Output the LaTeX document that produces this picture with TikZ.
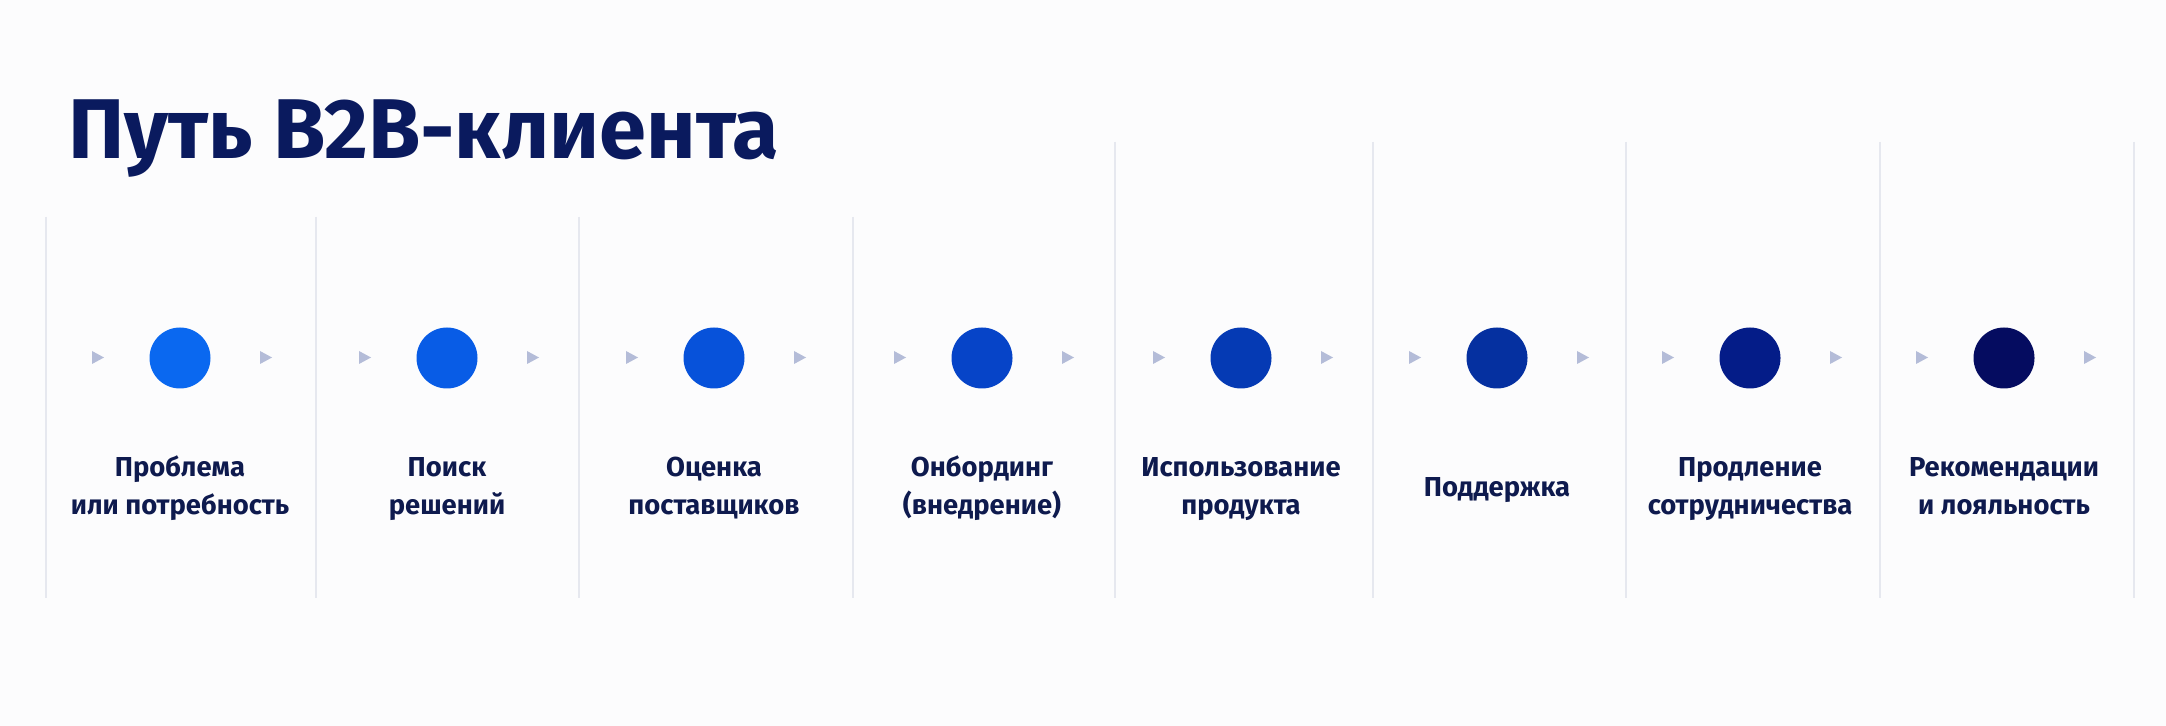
\documentclass[tikz,border=0pt]{standalone}
\usepackage{fontspec}
\setmainfont{Fira Sans}
\definecolor{bg}{HTML}{FCFCFD}
\definecolor{vline}{HTML}{E6E8EF}
\definecolor{titlec}{HTML}{0A1A5E}
\definecolor{labc}{HTML}{0E1A4E}
\definecolor{tri}{HTML}{B4BCD8}
\definecolor{c1}{HTML}{0A68F0}
\definecolor{c2}{HTML}{085CE6}
\definecolor{c3}{HTML}{0752DA}
\definecolor{c4}{HTML}{0644C8}
\definecolor{c5}{HTML}{053AB4}
\definecolor{c6}{HTML}{0530A0}
\definecolor{c7}{HTML}{041C88}
\definecolor{c8}{HTML}{050C60}
\tikzset{
  dot/.style={circle,minimum size=30.5pt,inner sep=0pt,draw=none},
  lab/.style={anchor=base,inner sep=0pt,text=labc,font=\fontsize{13.7}{19}\selectfont\bfseries},
  sep/.style={draw=vline,line width=0.7pt},
  arr/.style={fill=tri},
}
\begin{document}
\begin{tikzpicture}[x=0.5pt,y=-0.5pt]
\useasboundingbox (0,0) rectangle (2166,726);
\fill[bg] (0,0) rectangle (2166,726);
\node[anchor=base west,inner sep=0pt,text=titlec,font=\fontsize{42.4}{48}\selectfont\bfseries] (title) at (68,159) {Путь B2B-клиента};
% separators
\foreach \x in {46,316,579,853} \draw[sep] (\x,217) -- (\x,598);
\foreach \x in {1115,1373,1626,1880,2134} \draw[sep] (\x,142) -- (\x,598);
% stages
\foreach \cx/\c/\n in {180/c1/1,447/c2/2,714/c3/3,982/c4/4,1241/c5/5,1497/c6/6,1750/c7/7,2004/c8/8}{
  \node[dot,fill=\c] (s\n) at (\cx,358) {};
  \fill[arr] (\cx-88,351) -- (\cx-76,357.5) -- (\cx-88,364) -- cycle;
  \fill[arr] (\cx+80,351) -- (\cx+92,357.5) -- (\cx+80,364) -- cycle;
}
\node[lab] (t1a) at (180,477) {Проблема};
\node[lab] (t1b) at (180,514) {или потребность};
\node[lab] (t2a) at (447,477) {Поиск};
\node[lab] (t2b) at (447,514) {решений};
\node[lab] (t3a) at (714,477) {Оценка};
\node[lab] (t3b) at (714,514) {поставщиков};
\node[lab] (t4a) at (982,477) {Онбординг};
\node[lab] (t4b) at (982,514) {(внедрение)};
\node[lab] (t5a) at (1241,477) {Использование};
\node[lab] (t5b) at (1241,514) {продукта};
\node[lab] (t6) at (1497,496) {Поддержка};
\node[lab] (t7a) at (1750,477) {Продление};
\node[lab] (t7b) at (1750,514) {сотрудничества};
\node[lab] (t8a) at (2004,477) {Рекомендации};
\node[lab] (t8b) at (2004,514) {и лояльность};
\end{tikzpicture}
\end{document}
